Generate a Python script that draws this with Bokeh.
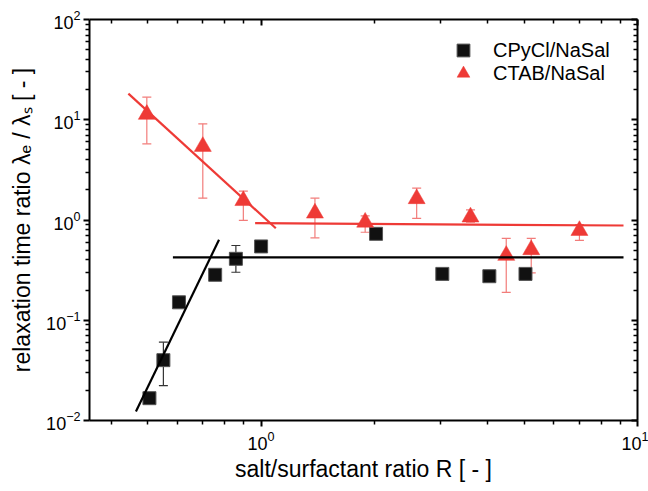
from bokeh.plotting import figure
from bokeh.models import (ColumnDataSource, Whisker, TeeHead, LogAxis, Legend,
                          LegendItem, FixedTicker, LogTickFormatter,
                          CustomJSTickFormatter)
from bokeh.embed import file_html
from bokeh.resources import INLINE

# CPyCl/NaSal : relaxation time ratio vs salt/surfactant ratio
cpy_R = [0.505, 0.55, 0.605, 0.755, 0.857, 1.0, 2.02, 3.03, 4.04, 5.04]
cpy_ratio = [0.0167, 0.040, 0.151, 0.284, 0.41, 0.545, 0.728, 0.29, 0.275, 0.29]
cpy_err_lo = [0.0160, 0.0223, 0.145, 0.265, 0.301, 0.53, 0.70, 0.28, 0.27, 0.275]
cpy_err_hi = [0.0175, 0.0604, 0.158, 0.300, 0.557, 0.56, 0.76, 0.31, 0.28, 0.31]

# CTAB/NaSal
ctab_R = [0.497, 0.70, 0.897, 1.39, 1.89, 2.59, 3.6, 4.48, 5.22, 7.01]
ctab_ratio = [11.3, 5.41, 1.56, 1.17, 0.95, 1.63, 1.07, 0.443, 0.505, 0.785]
ctab_err_lo = [5.75, 1.65, 0.99, 0.664, 0.755, 1.04, 0.95, 0.19, 0.297, 0.625]
ctab_err_hi = [16.8, 9.1, 1.94, 1.65, 1.10, 2.08, 1.26, 0.657, 0.657, 0.90]

# power-law fit lines
cpy_fit_rise_R = [0.465, 0.773]
cpy_fit_rise_y = [0.0123, 0.635]
cpy_fit_flat_R = [0.583, 9.18]
cpy_fit_flat_y = [0.423, 0.423]
ctab_fit_fall_R = [0.444, 1.094]
ctab_fit_fall_y = [18.2, 0.828]
ctab_fit_flat_R = [0.964, 9.18]
ctab_fit_flat_y = [0.929, 0.881]

# tick positions
x_major = [1, 10]
x_minor = [0.4, 0.5, 0.6, 0.7, 0.8, 0.9, 2, 3, 4, 5, 6, 7, 8, 9]
y_major = [0.01, 0.1, 1, 10, 100]
y_minor = [m * d for d in (0.01, 0.1, 1, 10) for m in range(2, 10)]

RED = "#EE3A36"
RED_ERR = "#F27C7A"
FONT = "Liberation Sans"

p = figure(width=648, height=491, x_axis_type="log", y_axis_type="log",
           x_range=(0.35, 10), y_range=(0.01, 100),
           output_backend="svg", toolbar_location=None,
           min_border_left=89, min_border_right=11,
           min_border_top=19, min_border_bottom=71)
p.xgrid.visible = False
p.ygrid.visible = False
p.outline_line_color = None
p.background_fill_color = "white"
p.border_fill_color = "white"

cpy_src = ColumnDataSource(dict(x=cpy_R, y=cpy_ratio, lo=cpy_err_lo, hi=cpy_err_hi))
ctab_src = ColumnDataSource(dict(x=ctab_R, y=ctab_ratio, lo=ctab_err_lo, hi=ctab_err_hi))

# error bars
for src, col in ((cpy_src, "#333333"), (ctab_src, RED_ERR)):
    w = Whisker(source=src, base="x", lower="lo", upper="hi", dimension="height",
                line_color=col, line_width=1.2,
                upper_head=TeeHead(size=9, line_color=col, line_width=1.2),
                lower_head=TeeHead(size=9, line_color=col, line_width=1.2))
    p.add_layout(w)

sq = p.scatter("x", "y", source=cpy_src, marker="square", size=13,
               fill_color="#111111", line_color="#555555", line_width=1)
tri = p.scatter("x", "y", source=ctab_src, marker="triangle", size=17,
                fill_color=RED, line_color=RED, line_width=0.5)

p.line(cpy_fit_rise_R, cpy_fit_rise_y, line_color="black", line_width=2.2)
p.line(cpy_fit_flat_R, cpy_fit_flat_y, line_color="black", line_width=2.2)
p.line(ctab_fit_fall_R, ctab_fit_fall_y, line_color=RED, line_width=2.2)
p.line(ctab_fit_flat_R, ctab_fit_flat_y, line_color=RED, line_width=2.2)

x_ticker = FixedTicker(ticks=x_major, minor_ticks=x_minor)
y_ticker = FixedTicker(ticks=y_major, minor_ticks=y_minor)

# axes: outward ticks on left/bottom, inward mirrored ticks on top/right
for ax, tk in ((p.xaxis[0], x_ticker), (p.yaxis[0], y_ticker)):
    ax.ticker = tk
    ax.formatter = LogTickFormatter()
    ax.axis_line_width = 2
    ax.major_tick_line_width = 2
    ax.minor_tick_line_width = 1.5
    ax.major_tick_out = 6
    ax.major_tick_in = 0
    ax.minor_tick_out = 4
    ax.minor_tick_in = 0
    ax.major_label_text_font = FONT
    ax.major_label_text_font_size = "18px"
    ax.major_label_text_color = "black"
    ax.axis_label_text_font = FONT
    ax.axis_label_text_font_style = "normal"
    ax.axis_label_text_font_size = "23px"
    ax.axis_label_text_color = "black"

p.xaxis[0].axis_label = "salt/surfactant ratio R [ - ]"
p.yaxis[0].axis_label = "relaxation time ratio \u03bb\u2091 / \u03bb\u209b [ - ]"
p.xaxis[0].major_label_standoff = 4
p.yaxis[0].major_label_standoff = 3
p.xaxis[0].axis_label_standoff = 3
p.yaxis[0].axis_label_standoff = 8

blank = CustomJSTickFormatter(code="return ''")
for loc, tk in (("above", x_ticker), ("right", y_ticker)):
    ax = LogAxis(ticker=tk, formatter=blank)
    ax.axis_line_width = 2
    ax.major_tick_line_width = 2
    ax.minor_tick_line_width = 1.5
    ax.major_tick_in = 6
    ax.major_tick_out = 0
    ax.minor_tick_in = 4
    ax.minor_tick_out = 0
    ax.major_label_text_font_size = "0px"
    p.add_layout(ax, loc)

# one single-entry legend per series, stacked at the upper right
for label, rend, loc in (("CPyCl/NaSal", sq, (358, 354)),
                         ("CTAB/NaSal", tri, (358, 331))):
    lg = Legend(items=[LegendItem(label=label, renderers=[rend])],
                location=loc, border_line_color=None,
                background_fill_alpha=0, label_text_font=FONT,
                label_text_color="black",
                label_text_font_size="20px", label_standoff=14,
                glyph_width=32, glyph_height=32, label_height=32,
                spacing=0, padding=0, margin=0)
    p.add_layout(lg)

open("out.html", "w").write(file_html(p, INLINE))
